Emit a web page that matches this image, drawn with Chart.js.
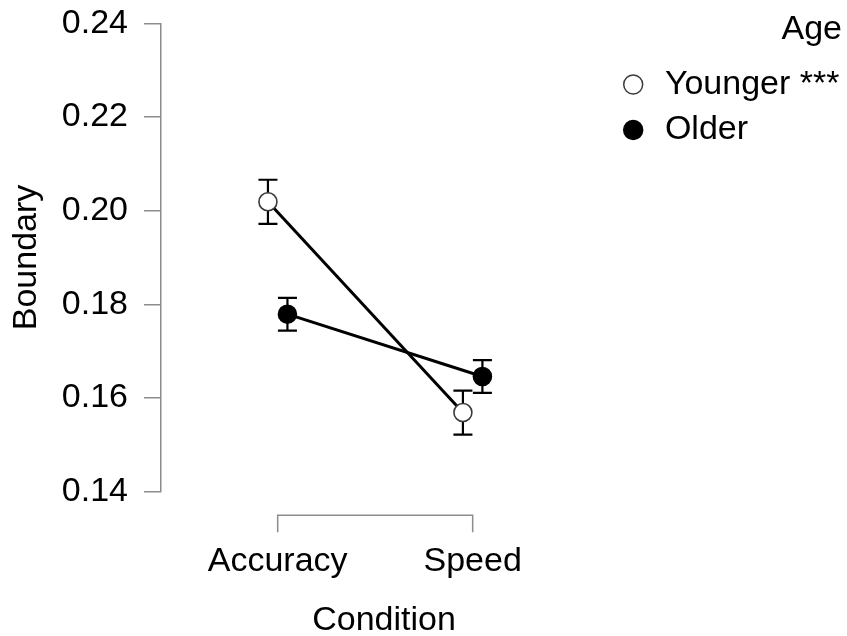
<!DOCTYPE html>
<html>
<head>
<meta charset="utf-8">
<script src="https://cdn.jsdelivr.net/npm/chart.js@4/dist/chart.umd.min.js"></script>
<style>
  html, body { margin: 0; padding: 0; background: #ffffff; }
  canvas { display: block; }
</style>
</head>
<body>
<canvas id="chart" width="847" height="636"></canvas>
<script>
// Boundary separation by condition and age group (means with error bars)
const categories = ['Accuracy', 'Speed'];
const groupLabels = ['Younger ***', 'Older'];
const youngerMeans = [0.2019, 0.1569];
const youngerErrors = [0.0047, 0.0047];
const olderMeans = [0.1779, 0.1646];
const olderErrors = [0.0035, 0.0035];
const yTickValues = [0.14, 0.16, 0.18, 0.20, 0.22, 0.24];

const FONT = '"Liberation Sans", Arial, Helvetica, sans-serif';
const FONT_SIZE = 34;
const AXIS_GREY = '#8c8c8c';
const DODGE = 0.05;

function toPoints(means, errors, shift) {
  return means.map((m, i) => ({ x: i + 1 + shift, y: m, err: errors[i] }));
}

// vertical error bars with caps, drawn underneath the points
const errorBars = {
  id: 'errorBars',
  beforeDatasetsDraw(chart) {
    const { ctx, scales: { x, y } } = chart;
    ctx.save();
    ctx.strokeStyle = '#000000';
    ctx.lineWidth = 2.2;
    const cap = 9.5;
    chart.data.datasets.forEach((ds) => {
      ds.data.forEach((p) => {
        const px = x.getPixelForValue(p.x);
        const top = y.getPixelForValue(p.y + p.err);
        const bot = y.getPixelForValue(p.y - p.err);
        ctx.beginPath();
        ctx.moveTo(px, top); ctx.lineTo(px, bot);
        ctx.moveTo(px - cap, top); ctx.lineTo(px + cap, top);
        ctx.moveTo(px - cap, bot); ctx.lineTo(px + cap, bot);
        ctx.stroke();
      });
    });
    ctx.restore();
  }
};

// bracket-style x axis spanning the condition positions
const xBracket = {
  id: 'xBracket',
  afterDraw(chart) {
    const { ctx, chartArea, scales: { x } } = chart;
    const x1 = x.getPixelForValue(1);
    const x2 = x.getPixelForValue(categories.length);
    const y0 = chartArea.bottom + 23.5;
    const y1 = y0 + 17;
    ctx.save();
    ctx.strokeStyle = AXIS_GREY;
    ctx.lineWidth = 1.5;
    ctx.beginPath();
    ctx.moveTo(x1, y1); ctx.lineTo(x1, y0); ctx.lineTo(x2, y0); ctx.lineTo(x2, y1);
    ctx.stroke();
    ctx.restore();
  }
};

Chart.defaults.font.family = FONT;
Chart.defaults.font.size = FONT_SIZE;
Chart.defaults.color = '#000000';

new Chart(document.getElementById('chart'), {
  type: 'line',
  data: {
    datasets: [
      {
        label: groupLabels[0],
        data: toPoints(youngerMeans, youngerErrors, -DODGE),
        borderColor: '#000000',
        borderWidth: 3,
        backgroundColor: '#ffffff',
        pointBackgroundColor: '#ffffff',
        pointBorderColor: '#3a3a3a',
        pointBorderWidth: 1.6,
        pointRadius: 9,
        pointStyle: 'circle'
      },
      {
        label: groupLabels[1],
        data: toPoints(olderMeans, olderErrors, DODGE),
        borderColor: '#000000',
        borderWidth: 3,
        backgroundColor: '#000000',
        pointBackgroundColor: '#000000',
        pointBorderColor: '#000000',
        pointBorderWidth: 1.6,
        pointRadius: 9,
        pointStyle: 'circle'
      }
    ]
  },
  options: {
    responsive: false,
    devicePixelRatio: 1,
    animation: false,
    events: [],
    layout: { padding: { top: 0, right: 5, bottom: 0, left: 0 } },
    scales: {
      x: {
        type: 'linear',
        min: 0.4015,
        max: 2.689,
        grid: { display: false },
        border: { display: false },
        afterBuildTicks(scale) {
          scale.ticks = categories.map((_, i) => ({ value: i + 1 }));
        },
        afterFit(scale) { scale.height = 144.3; },
        ticks: {
          autoSkip: false,
          maxRotation: 0,
          padding: 42,
          color: '#000000',
          callback: (v) => categories[Math.round(v) - 1]
        },
        title: {
          display: true,
          text: 'Condition',
          color: '#000000',
          padding: { top: 0, bottom: -5 }
        }
      },
      y: {
        min: 0.14,
        max: 0.24,
        afterBuildTicks(scale) {
          scale.ticks = yTickValues.map((v) => ({ value: v }));
        },
        afterFit(scale) {
          scale.width = 161;
          scale.paddingTop = 23.3;
          scale.paddingBottom = 0;
        },
        border: { display: true, color: AXIS_GREY, width: 1.5 },
        grid: {
          drawOnChartArea: false,
          color: AXIS_GREY,
          lineWidth: 1.5,
          tickLength: 17
        },
        ticks: {
          padding: 16,
          color: '#000000',
          callback: (v) => Number(v).toFixed(2)
        },
        title: {
          display: true,
          text: 'Boundary',
          color: '#000000',
          padding: { top: 6.3, bottom: 0 }
        }
      }
    },
    plugins: {
      tooltip: { enabled: false },
      legend: {
        position: 'right',
        align: 'start',
        maxWidth: 235,
        title: {
          display: true,
          text: 'Age',
          position: 'end',
          color: '#000000',
          padding: { top: 13, bottom: 2.2 }
        },
        labels: {
          usePointStyle: true,
          boxWidth: 29.4,
          boxHeight: 13.4,
          padding: 11.5,
          color: '#000000',
          generateLabels(chart) {
            const items = Chart.defaults.plugins.legend.labels.generateLabels(chart);
            return items.map((it, i) => {
              const ds = chart.data.datasets[i];
              return Object.assign(it, {
                fillStyle: ds.pointBackgroundColor,
                strokeStyle: ds.pointBorderColor,
                lineWidth: 1.5
              });
            });
          }
        }
      }
    }
  },
  plugins: [errorBars, xBracket]
});
</script>
</body>
</html>
